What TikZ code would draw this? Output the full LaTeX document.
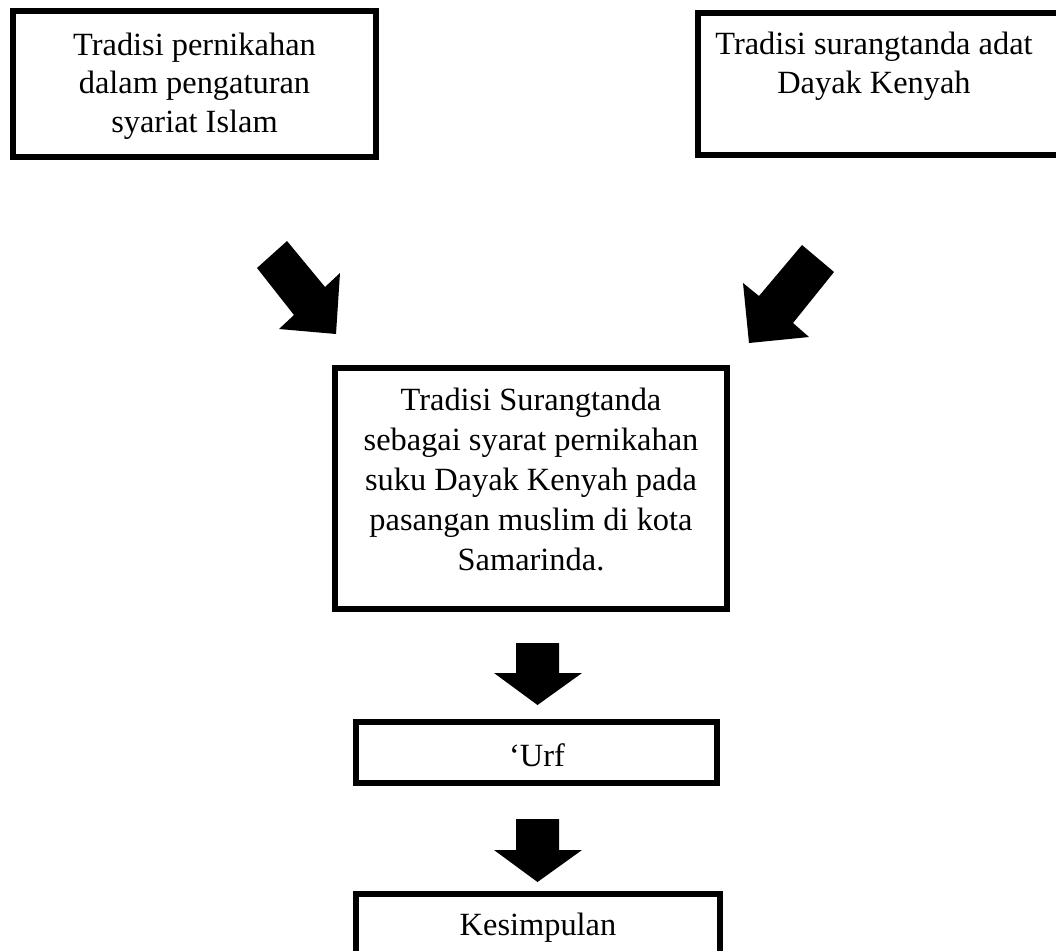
\documentclass[tikz,border=0pt]{standalone}
\usepackage{fontspec}
\setmainfont{Liberation Serif}
\begin{document}
\begin{tikzpicture}[x=1pt,y=-1pt,
  box/.style={draw=black, line width=6.5pt, fill=white, inner sep=0pt},
  txt/.style={align=center, inner sep=0pt, anchor=base, font=\fontsize{32.4}{38.5}\selectfont},
  blk/.style={fill=black, draw=none}]
\useasboundingbox (0,0) rectangle (1056,950);
\clip (0,0) rectangle (1056,950);
% boxes
\node[box, minimum width=363pt, minimum height=146pt] (b1) at (194.5,84) {};
\node[box, minimum width=372pt, minimum height=142pt] (b2) at (884,84) {};
\node[box, minimum width=392pt, minimum height=241pt] (b3) at (531,488.5) {};
\node[box, minimum width=361pt, minimum height=61pt] (b4) at (536.5,752.5) {};
\node[box, minimum width=364pt, minimum height=66pt] (b5) at (538,927) {};
% texts (base anchor = last line's baseline)
\node[txt] (t1) at (194.5,132) {Tradisi pernikahan\\dalam pengaturan\\syariat Islam};
\node[txt] (t2) at (874,93) {Tradisi surangtanda adat\\Dayak Kenyah};
\node[txt, font=\fontsize{32.4}{40}\selectfont] (t3) at (531,570) {Tradisi Surangtanda\\sebagai syarat pernikahan\\suku Dayak Kenyah pada\\pasangan muslim di kota\\Samarinda.};
\node[txt] (t4) at (537,766) {‘Urf};
\node[txt] (t5) at (538,935) {Kesimpulan};
% block arrows
\fill[blk] (257,268) -- (287,241) -- (325,287) -- (340,273) -- (336,334) -- (279,329) -- (294,315) -- cycle;
\fill[blk] (802,245) -- (834,272) -- (793,323) -- (809,337) -- (749,343) -- (743,283) -- (759,296) -- cycle;
\fill[blk] (516,643) -- (559,643) -- (559,673) -- (582,673) -- (537.5,705) -- (494,673) -- (516,673) -- cycle;
\fill[blk] (516,819) -- (559,819) -- (559,850) -- (582,850) -- (537.5,882) -- (494,850) -- (516,850) -- cycle;
\end{tikzpicture}
\end{document}
